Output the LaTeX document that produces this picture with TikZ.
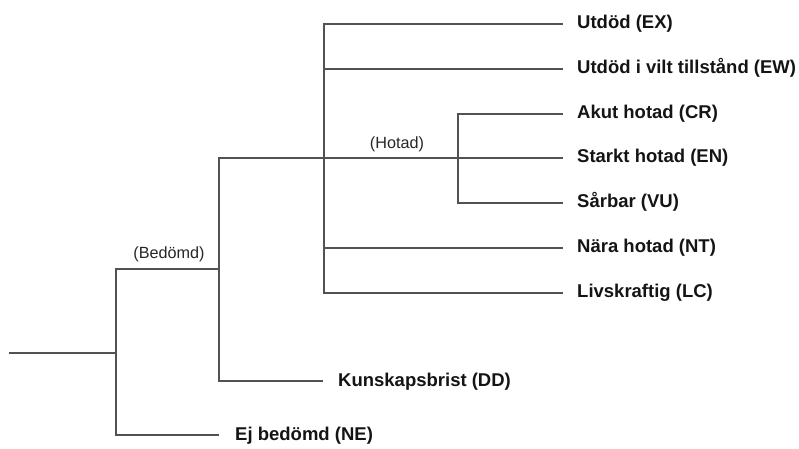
\documentclass[tikz,border=0pt]{standalone}
\usepackage{fontspec}
\setmainfont{Liberation Sans}
\begin{document}
\begin{tikzpicture}[x=1pt,y=-1pt,
  branch/.style={draw=black!68,line width=1.7pt,line cap=rect},
  cat/.style={anchor=base west,inner sep=0pt,font=\fontsize{18.5}{20}\selectfont\bfseries,text=black!92},
  grp/.style={anchor=base,inner sep=0pt,font=\fontsize{16.2}{18}\selectfont,text=black!85}]
\useasboundingbox (0,0) rectangle (799,448);
% junction coordinates
\coordinate (root) at (10,353);
\coordinate (j1) at (116,353);
\coordinate (j1t) at (116,269);
\coordinate (j2m) at (219,269);
\coordinate (j2t) at (219,158);
\coordinate (j3) at (324,158);
\coordinate (j3t) at (324,24);
\coordinate (j3b) at (324,293);
\coordinate (j3ew) at (324,69);
\coordinate (j3nt) at (324,248);
\coordinate (j4t) at (458,114);
\coordinate (j4b) at (458,203);
% line ends
\coordinate (eNE) at (218,435);
\coordinate (eDD) at (322,381);
\coordinate (eEX) at (562,24);
\coordinate (eEW) at (562,69);
\coordinate (eCR) at (562,114);
\coordinate (eEN) at (562,158);
\coordinate (eVU) at (562,203);
\coordinate (eNT) at (562,248);
\coordinate (eLC) at (562,293);
% labels
\node[cat] (ex) at (577,28) {Utdöd (EX)};
\node[cat] (ew) at (577,73) {Utdöd i vilt tillstånd (EW)};
\node[cat] (cr) at (577,118) {Akut hotad (CR)};
\node[cat] (en) at (577,162) {Starkt hotad (EN)};
\node[cat] (vu) at (577,207) {Sårbar (VU)};
\node[cat] (nt) at (577,252) {Nära hotad (NT)};
\node[cat] (lc) at (577,297) {Livskraftig (LC)};
\node[cat] (dd) at (338,386) {Kunskapsbrist (DD)};
\node[cat] (ne) at (235,440) {Ej bedömd (NE)};
\node[grp] (hotad) at (397,148) {(Hotad)};
\node[grp] (bedomd) at (169,258) {(Bedömd)};
% branches
\draw[branch] (root) -- (j1);
\draw[branch] (eNE) -| (j1t) -- (j2m);
\draw[branch] (eDD) -| (j2t) -- (eEN);
\draw[branch] (eEX) -| (j3b) -- (eLC);
\draw[branch] (j3ew) -- (eEW);
\draw[branch] (j3nt) -- (eNT);
\draw[branch] (eCR) -| (j4b) -- (eVU);
\end{tikzpicture}
\end{document}
